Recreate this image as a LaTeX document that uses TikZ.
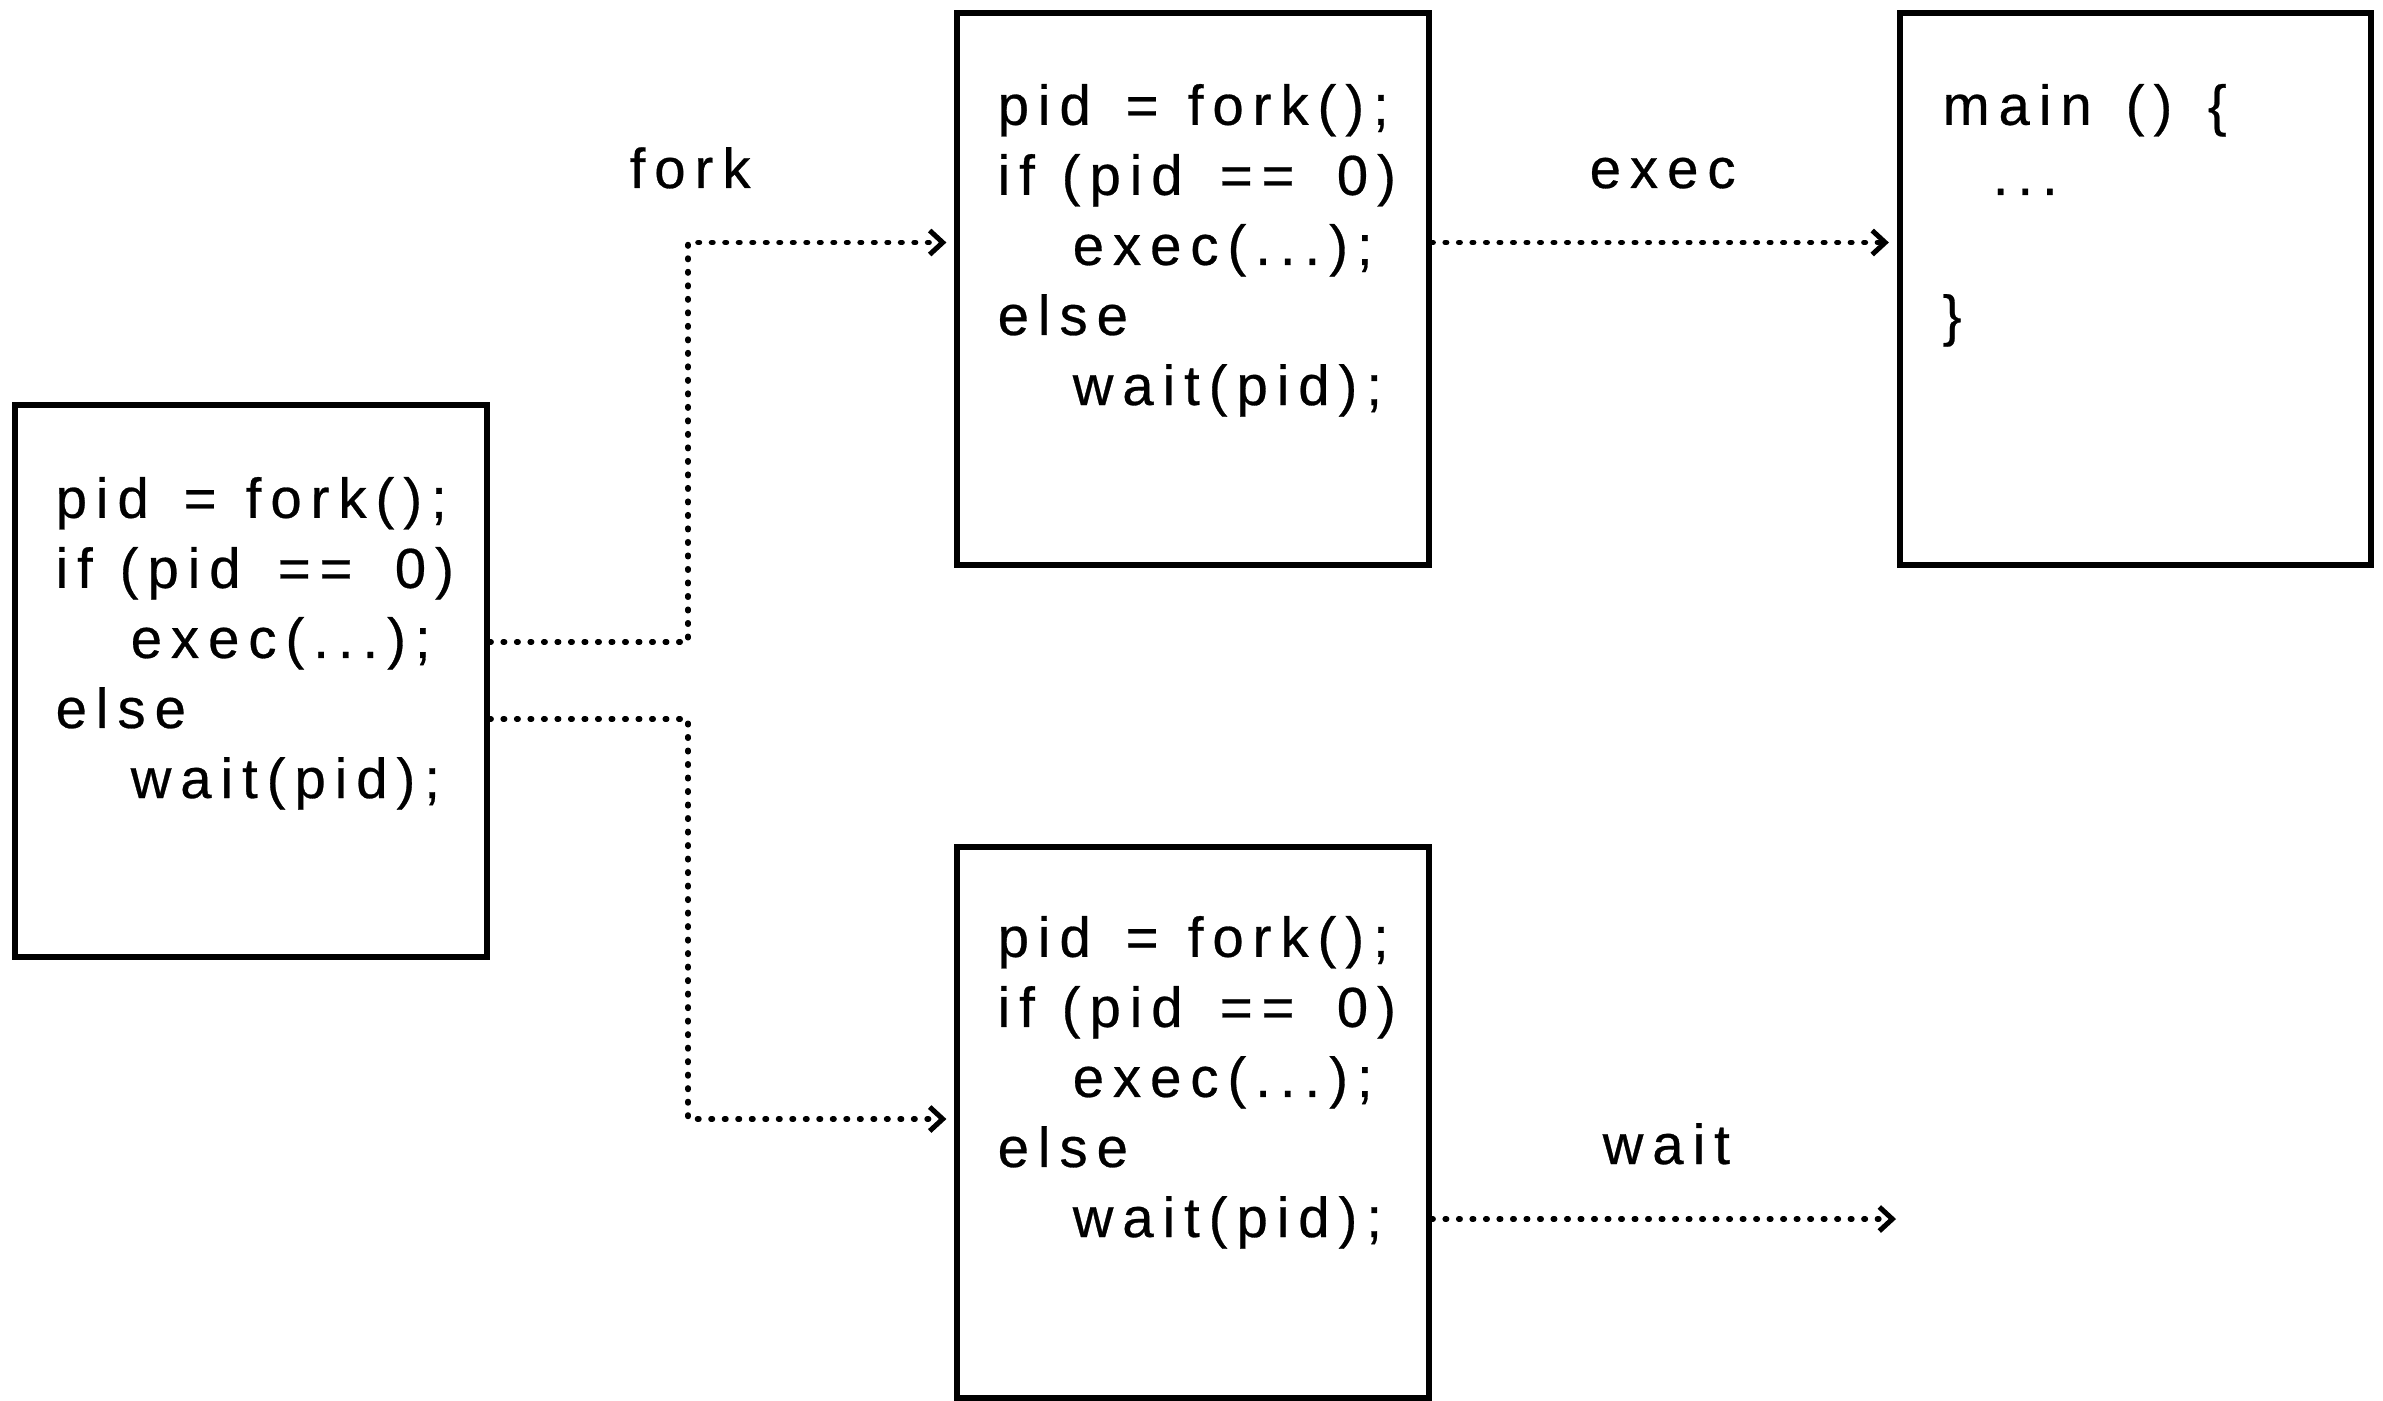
\documentclass[tikz,border=0pt]{standalone}
\usepackage{fontspec}
\setmainfont{Liberation Sans}[LetterSpace=16, FakeBold=0.5]
\usetikzlibrary{arrows.meta}
\newcommand{\wordat}[2]{\makebox[#1][l]{#2}}
\newcommand{\forkcode}{%
\wordat{1.28cm}{pid}\wordat{0.62cm}{=}fork();\\
\wordat{0.64cm}{if}\wordat{1.58cm}{(pid}\wordat{1.17cm}{==}0)\\
\hspace*{0.75cm}exec(...);\\
else\\
\hspace*{0.75cm}wait(pid);}
\begin{document}
\begin{tikzpicture}[x=0.01cm,y=-0.01cm,
  box/.style={draw, line width=0.06cm, minimum width=4.71cm, minimum height=5.51cm, inner sep=0pt},
  code/.style={inner sep=0pt, align=left, font=\fontsize{16pt}{19.92pt}\selectfont},
  lbl/.style={inner sep=0pt, font=\fontsize{16pt}{19.92pt}\selectfont},
  flow/.style={line width=0.055cm, line cap=round, dash pattern=on 0.015cm off 0.12cm,
    -{Straight Barb[length=0.13cm, width=0.24cm, line width=0.05cm]}, shorten >=0.08cm}]
\useasboundingbox (0,0) rectangle (2383,1400);
% boxes
\node[box] (L) at (251,681) {};
\node[box] (M1) at (1193,289) {};
\node[box] (R) at (2135.5,289) {};
\node[box] (M2) at (1193,1122.5) {};
% code (anchored at the baseline of the last line)
\node[code, anchor=base west] (Lt) at (55,798) {\forkcode};
\node[code, anchor=base west] (M1t) at (997,405) {\forkcode};
\node[code, anchor=base west] (M2t) at (997,1237) {\forkcode};
\node[code, anchor=base west] (Rt) at (1942,335) {\wordat{1.83cm}{main}\wordat{0.82cm}{()}\{\\\hspace*{0.5cm}...\\\mbox{}\\\}};
% labels
\node[lbl, anchor=base west] (fork) at (629,188) {fork};
\node[lbl, anchor=base west] (exec) at (1589,188) {exec};
\node[lbl, anchor=base west] (wait) at (1602,1164) {wait};
% connector points
\coordinate (a1) at (0,642);
\coordinate (a2) at (0,719);
\coordinate (j) at (688,0);
\coordinate (t1) at (0,242.5);
\coordinate (t2) at (0,1119);
\coordinate (w) at (1904,1219);
\draw[flow] (L.east |- a1) -- (j |- a1) -- (j |- t1) -- (M1.west |- t1);
\draw[flow] (L.east |- a2) -- (j |- a2) -- (j |- t2) -- (M2.west |- t2);
\draw[flow] (M1.east |- t1) -- (R.west |- t1);
\draw[flow] (M2.east |- w) -- (w);
\end{tikzpicture}
\end{document}
